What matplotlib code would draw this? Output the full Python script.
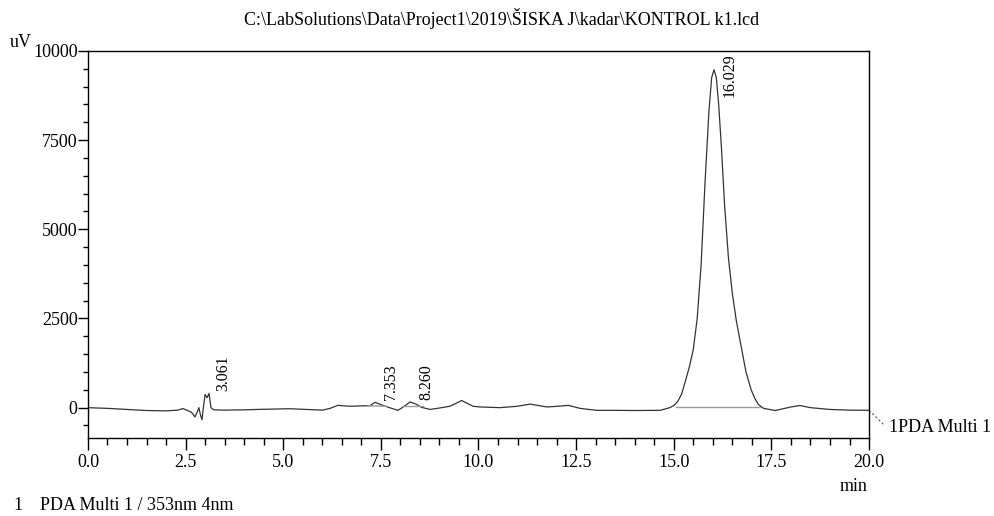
#!/usr/bin/env python

import matplotlib
matplotlib.use('Agg')
import matplotlib.pyplot as plt
from matplotlib.ticker import MultipleLocator

# chromatogram trace (min, uV)
time_min = [0.0, 0.5, 1.0, 1.5, 2.0, 2.3, 2.43, 2.55, 2.65, 2.74, 2.80, 2.84, 2.88,
            2.92, 2.96, 3.00, 3.05, 3.10, 3.15, 3.22, 3.5, 4.0, 4.5, 5.17, 5.6, 6.0,
            6.2, 6.4, 6.7, 7.0, 7.22, 7.35, 7.56, 7.75, 7.94, 8.1, 8.25, 8.40, 8.54,
            8.76, 9.0, 9.27, 9.57, 9.86, 10.04, 10.55, 11.0, 11.32, 11.75, 12.05, 12.3,
            12.6, 13.03, 13.5, 14.0, 14.65, 14.90, 15.0, 15.1, 15.2, 15.3, 15.4, 15.5,
            15.6, 15.7, 15.8, 15.9, 15.97, 16.03, 16.09, 16.15, 16.22, 16.3, 16.4,
            16.5, 16.6, 16.74, 16.85, 16.98, 17.08, 17.17, 17.3, 17.6, 18.0, 18.23,
            18.5, 19.0, 19.5, 20.0]
signal_uv = [0, -20, -50, -80, -90, -70, -25, -80, -130, -260, -120, 0, -200,
             -340, 50, 370, 280, 400, 0, -60, -70, -60, -45, -30, -50, -70,
             -20, 65, 40, 50, 55, 150, 60, -10, -75, 40, 160, 100, 10,
             -50, -10, 40, 200, 40, 20, 0, 40, 100, 20, 40, 65,
             -20, -75, -75, -80, -75, 0, 60, 170, 380, 750, 1150, 1630,
             2500, 4000, 6300, 8300, 9250, 9475, 9250, 8500, 7300, 5700, 4200,
             3200, 2450, 1630, 1000, 505, 250, 85, -20, -80, 20, 60,
             0, -50, -70, -75]

# detected peaks
peak_rt = [3.061, 7.353, 8.260, 16.029]
peak_height = [400, 150, 160, 9475]
# integration baselines (start, end) in min and uV
base_t = [(7.17, 7.65), (8.03, 8.58), (15.06, 17.2)]
base_v = [(50, 40), (40, 40), (10, 10)]

plt.rcParams['font.family'] = ['Liberation Serif', 'DejaVu Serif']
plt.rcParams['font.size'] = 13

fig = plt.figure(figsize=(9.95, 5.16), dpi=100)
ax = fig.add_axes([0.0884, 0.1512, 0.785, 0.7500])

ax.plot(time_min, signal_uv, color='#333333', lw=0.9, solid_joinstyle='round')
for (t0, t1), (v0, v1) in zip(base_t, base_v):
    ax.plot([t0, t1], [v0, v1], color='#9a9a9a', lw=1.0)

for rt, h in zip(peak_rt, peak_height):
    ax.text(rt + 0.2, min(h + 60, 8700), '%.3f' % rt, rotation=90,
            ha='left', va='bottom', fontsize=11.5)

ax.set_xlim(0, 20)
ax.set_ylim(-850, 10000)
ax.xaxis.set_major_locator(MultipleLocator(2.5))
ax.xaxis.set_minor_locator(MultipleLocator(0.5))
ax.yaxis.set_major_locator(MultipleLocator(2500))
ax.yaxis.set_minor_locator(MultipleLocator(500))
ax.xaxis.set_major_formatter(plt.FuncFormatter(lambda v, p: '%.1f' % v))
ax.tick_params(axis='x', which='major', direction='out', length=8.5, width=1, pad=3)
ax.tick_params(axis='x', which='minor', direction='out', length=5, width=1)
ax.tick_params(axis='y', which='major', direction='out', length=7, width=1, pad=0.5)
ax.tick_params(axis='y', which='minor', direction='out', length=3.6, width=1)
for s in ax.spines.values():
    s.set_linewidth(1.0)

# trace name with leader line
ax.plot([20.0, 20.4], [-75, -500], color='#555555', lw=0.8, ls=(0, (2, 2)), clip_on=False)
ax.text(20.52, -560, '1PDA Multi 1', ha='left', va='center', clip_on=False)

fig.text(0.5045, 0.965, 'C:\\LabSolutions\\Data\\Project1\\2019\\ŠISKA J\\kadar\\KONTROL k1.lcd',
         ha='center', va='center')
fig.text(0.010, 0.918, 'uV', ha='left', va='center')
fig.text(0.8724, 0.058, 'min', ha='right', va='center')
fig.text(0.013, 0.021, '1', ha='left', va='center')
fig.text(0.040, 0.021, 'PDA Multi 1 / 353nm 4nm', ha='left', va='center')

fig.savefig('out.png', dpi=100)
